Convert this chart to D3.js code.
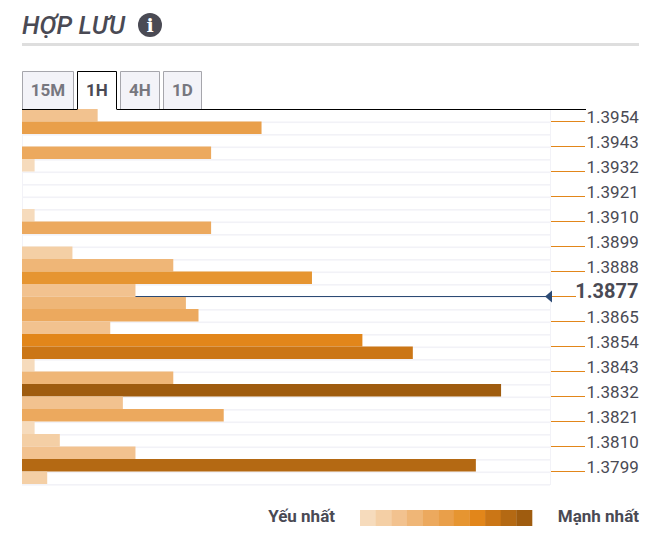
<!DOCTYPE html>
<html lang="vi">
<head>
<meta charset="utf-8">
<title>Hợp lưu</title>
<script src="https://cdn.jsdelivr.net/npm/d3@7"></script>
<style>
  html, body { margin: 0; padding: 0; background: #fff; }
  svg { display: block; font-family: Roboto, sans-serif; }
</style>
</head>
<body>
<svg id="chart" width="664" height="541"></svg>
<script>
// --- data ---
const timeframes = ["15M", "1H", "4H", "1D"];
const activeFrame = "1H";
const priceLevels = ["1.3954", "1.3943", "1.3932", "1.3921", "1.3910", "1.3899", "1.3888", "1.3877",
  "1.3865", "1.3854", "1.3843", "1.3832", "1.3821", "1.3810", "1.3799"];
const currentPrice = "1.3877";
const strengths = [6, 19, 0, 15, 1, 0, 0, 0, 1, 15, 0, 4, 12, 23, 9, 13, 14, 7, 27, 31, 1, 12, 38, 8, 16, 1, 3, 9, 36, 2];
const currentRow = 14;
const legendColors = ["#f6dbbc", "#f4cfa5", "#f2c28f", "#efb677", "#eca95e", "#e99f4a", "#e69531", "#e2861a", "#cb7616", "#b46913", "#9f5c0f"];
const colorBreaks = [2, 5, 11, 14, 18, 22, 25, 30, 35, 37];

const svg = d3.select("#chart");
const ink = "#4a4a54";

// --- title ---
svg.append("text").attr("x", 22).attr("y", 34)
  .attr("font-size", 25).attr("font-style", "italic").attr("font-weight", 500)
  .attr("textLength", 103).attr("lengthAdjust", "spacingAndGlyphs")
  .attr("fill", ink).text("HỢP LƯU");
svg.append("circle").attr("cx", 150).attr("cy", 25).attr("r", 12).attr("fill", ink);
svg.append("text").attr("x", 150).attr("y", 32).attr("text-anchor", "middle")
  .attr("font-family", "'DejaVu Serif', serif").attr("font-weight", 700).attr("font-size", 19)
  .attr("fill", "#fff").text("i");
svg.append("rect").attr("x", 22).attr("y", 43).attr("width", 617).attr("height", 3).attr("fill", "#dedede");

// --- scales ---
const x = d3.scaleLinear().domain([0, 42]).range([22, 551.5]);
const y = d3.scaleBand().domain(d3.range(strengths.length)).range([109, 484]);
const yLevel = d3.scalePoint().domain(priceLevels).range([121.5, 471.5]);
const color = d3.scaleThreshold().domain(colorBreaks).range(legendColors);

// --- plot background ---
const plot = svg.append("g");
plot.selectAll("rect.stripe")
  .data(d3.range(strengths.length))
  .join("rect")
  .attr("class", "stripe")
  .attr("x", 22).attr("width", 528)
  .attr("y", d => y(d) + y.bandwidth()).attr("height", 1.6)
  .attr("fill", "#f2f2f7");
plot.append("line").attr("x1", 22.5).attr("x2", 22.5).attr("y1", 109).attr("y2", 485).attr("stroke", "#f2f2f7");
plot.append("line").attr("x1", 550.5).attr("x2", 550.5).attr("y1", 109).attr("y2", 485).attr("stroke", "#f2f2f7");

// --- bars ---
plot.selectAll("rect.bar")
  .data(strengths)
  .join("rect")
  .attr("class", "bar")
  .attr("x", x(0))
  .attr("y", (d, i) => y(i))
  .attr("width", d => x(d) - x(0))
  .attr("height", y.bandwidth())
  .attr("fill", d => color(d));

// --- tabs ---
const tabX = d3.scaleOrdinal().domain(timeframes).range([22.5, 77.5, 120.5, 163.5]);
const tabW = d3.scaleOrdinal().domain(timeframes).range([51, 39, 39, 38]);
svg.append("path").attr("fill", "none").attr("stroke", "#000")
  .attr("d", "M22,109.5H77.5M116.5,109.5H586");
const tabs = svg.selectAll("g.tab").data(timeframes).join("g").attr("class", "tab");
tabs.append("path")
  .attr("d", d => `M${tabX(d)},109V71.5H${tabX(d) + tabW(d)}V109`)
  .attr("fill", d => d === activeFrame ? "#fff" : "#f3f3f8")
  .attr("stroke", d => d === activeFrame ? "#000" : "#a6a6ac");
tabs.append("text")
  .attr("x", d => tabX(d) + tabW(d) / 2).attr("y", 96)
  .attr("text-anchor", "middle").attr("font-size", 17).attr("font-weight", 700)
  .attr("fill", d => d === activeFrame ? ink : "#77777f").text(d => d);

// --- price axis ---
const axis = d3.axisRight(yLevel).tickSize(0).tickPadding(0).offset(0);
const axisG = svg.append("g").attr("transform", "translate(551,0)").call(axis);
axisG.select(".domain").remove();
axisG.selectAll(".tick line")
  .attr("x2", d => d === currentPrice ? 25 : 34)
  .attr("stroke", "#e2861a");
axisG.selectAll(".tick text")
  .attr("x", d => d === currentPrice ? 87.5 : 35.5)
  .attr("y", d => d === currentPrice ? -4.5 : -3.5)
  .attr("dy", "0.32em")
  .attr("text-anchor", d => d === currentPrice ? "end" : "start")
  .attr("font-family", "Roboto, sans-serif")
  .attr("font-size", d => d === currentPrice ? 20 : 17)
  .attr("font-weight", d => d === currentPrice ? 700 : 400)
  .attr("fill", ink);

// --- current price marker ---
const yNow = yLevel(currentPrice);
svg.append("line").attr("x1", x(strengths[currentRow])).attr("x2", 547)
  .attr("y1", yNow).attr("y2", yNow).attr("stroke", "#2c4a74");
svg.append("path").attr("fill", "#2c4a74")
  .attr("d", `M545,${yNow}L552,${yNow - 6}V${yNow + 6}Z`);

// --- legend ---
const legendX = d3.scaleBand().domain(d3.range(legendColors.length)).range([360, 532]);
svg.selectAll("rect.key").data(legendColors).join("rect")
  .attr("class", "key")
  .attr("x", (d, i) => legendX(i)).attr("y", 510)
  .attr("width", legendX.bandwidth() + 0.3).attr("height", 16)
  .attr("fill", d => d);
svg.append("text").attr("x", 335).attr("y", 522).attr("text-anchor", "end")
  .attr("font-size", 17).attr("font-weight", 700).attr("fill", ink).text("Yếu nhất");
svg.append("text").attr("x", 639).attr("y", 522).attr("text-anchor", "end")
  .attr("font-size", 17).attr("font-weight", 700).attr("fill", ink).text("Mạnh nhất");
</script>
</body>
</html>
